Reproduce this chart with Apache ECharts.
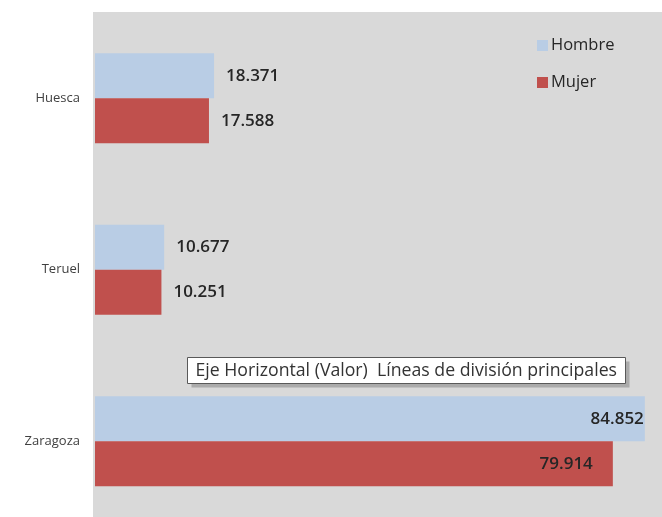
<!DOCTYPE html>
<html>
<head>
<meta charset="utf-8">
<script src="https://cdn.jsdelivr.net/npm/echarts@6/dist/echarts.min.js"></script>
<style>
  html, body { margin: 0; padding: 0; background: #fff; overflow: hidden; }
  /* the plot runs past the bottom of the window, as in the cropped original */
  #chart { width: 662px; height: 527px; }
</style>
</head>
<body>
<div id="chart"></div>
<script>
// provinces, top to bottom
const provincias = ['Huesca', 'Teruel', 'Zaragoza']
const hombre = [18371, 10677, 84852]
const mujer = [17588, 10251, 79914]
const tooltipText = 'Eje Horizontal (Valor)  Líneas de división principales'

const fmt = v => v.toLocaleString('de-DE')
const font = "'Open Sans', 'Noto Sans', sans-serif"

// the big Zaragoza bars carry their label inside, the rest outside
function labelFor(values, insideDist) {
  return values.map((v, i) => ({
    value: v,
    label: i === 2
      ? { position: 'insideRight', distance: insideDist }
      : { position: 'right', distance: 12 }
  }))
}

const valueLabel = {
  show: true,
  formatter: p => fmt(p.value),
  fontFamily: font,
  fontSize: 17,
  fontWeight: 600,
  color: '#262626'
}

const chart = echarts.init(document.getElementById('chart'))

chart.setOption({
  backgroundColor: '#fff',
  animation: false,
  graphic: [
    {
      type: 'rect',
      z: 0,
      shape: { x: 93, y: 12, width: 600, height: 520 },
      style: { fill: '#d9d9d9' }
    },
    {
      type: 'group',
      left: 187,
      top: 357,
      z: 100,
      children: [
        { type: 'rect', shape: { x: 4, y: 4, width: 438, height: 26 }, style: { fill: '#8c8c8c', opacity: 0.6 } },
        { type: 'rect', shape: { x: 0, y: 0, width: 438, height: 26 }, style: { fill: '#fff', stroke: '#595959', lineWidth: 1 } },
        { type: 'text', x: 8, y: 13, style: { text: tooltipText, font: '17.7px ' + font, fill: '#333', verticalAlign: 'middle' } }
      ]
    }
  ],
  legend: {
    orient: 'vertical',
    left: 537,
    top: 37,
    padding: 0,
    itemWidth: 11,
    itemHeight: 11,
    itemGap: 20,
    icon: 'rect',
    textStyle: { fontFamily: font, fontSize: 16.5, fontWeight: 500, color: '#262626', padding: [0, 0, 0, -2] },
    data: ['Hombre', 'Mujer']
  },
  grid: { left: 95, top: 12.5, right: 0, bottom: 0 },
  xAxis: {
    type: 'value',
    min: 0,
    max: 87500,
    show: false
  },
  yAxis: {
    type: 'category',
    inverse: true,
    data: provincias,
    axisLine: { show: false },
    axisTick: { show: false },
    axisLabel: { margin: 15, fontFamily: font, fontSize: 13, color: '#404040' }
  },
  series: [
    {
      name: 'Hombre',
      type: 'bar',
      barWidth: 45,
      barGap: 0,
      itemStyle: { color: '#b9cde5' },
      label: valueLabel,
      data: labelFor(hombre, 1)
    },
    {
      name: 'Mujer',
      type: 'bar',
      barWidth: 45,
      barGap: 0,
      itemStyle: { color: '#c0504d' },
      label: valueLabel,
      data: labelFor(mujer, 20)
    }
  ]
})
</script>
</body>
</html>
